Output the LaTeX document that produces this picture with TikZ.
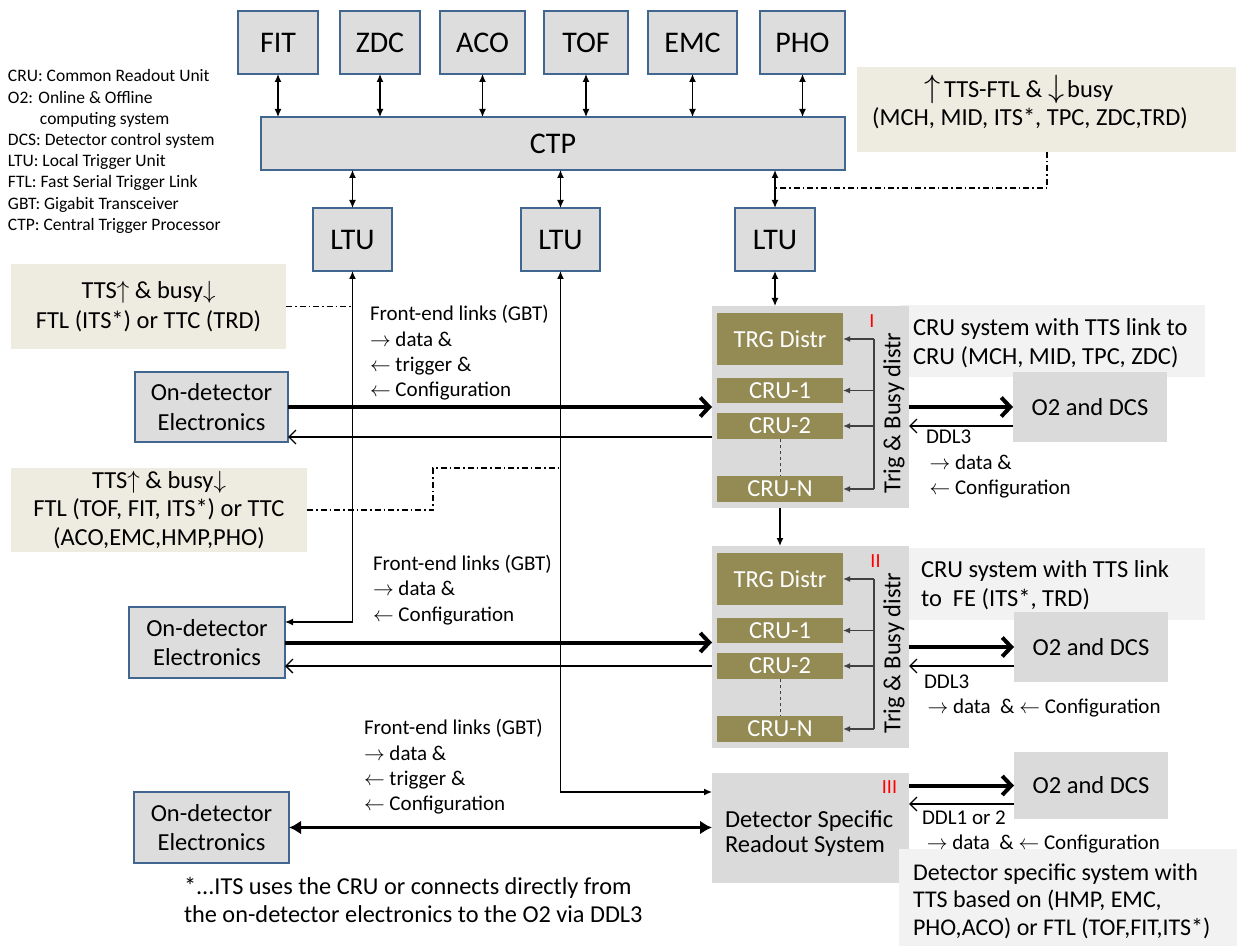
\documentclass[tikz,border=0pt]{standalone}
\usepackage{fontspec}
\setmainfont{Carlito}
\usetikzlibrary{arrows.meta}

\definecolor{boxgray}{HTML}{DDDDDD}
\definecolor{sysgray}{HTML}{DADADA}
\definecolor{boxblue}{HTML}{41668F}
\definecolor{tanbg}{HTML}{EEECE1}
\definecolor{notebg}{HTML}{F2F2F2}
\definecolor{olivebox}{HTML}{948A54}
\definecolor{busgray}{HTML}{404040}

\newcommand\fsz[2]{\fontsize{#1}{#2}\selectfont}
\newcommand\rarr{$\rightarrow$}
\newcommand\larr{$\leftarrow$}
\newcommand\uarr{$\uparrow$}
\newcommand\darr{$\downarrow$}

% one CRU system: #1 name suffix, #2 vertical offset, #3 red numeral, #4 numeral x
\newcommand\drawcrusys[4]{%
\begin{scope}[shift={(0,#2)}]
  \node[sys box, minimum width=197pt, minimum height=202pt] (sys#1) at (712,306) {};
  \node[olive box, minimum width=126pt, minimum height=52pt] (trg#1) at (717,313) {TRG Distr};
  \node[olive box, minimum width=126pt, minimum height=25pt] (cruA#1) at (717,378) {CRU-1};
  \node[olive box, minimum width=126pt, minimum height=26pt] (cruB#1) at (717,413) {CRU-2};
  \node[olive box, minimum width=126pt, minimum height=26pt] (cruN#1) at (717,476) {CRU-N};
  \draw[dashed, busgray, line width=0.8pt] (cruB#1.south) -- (cruN#1.north);
  \coordinate (bus#1) at (874,0);
  \draw[bus] (trg#1.east -| bus#1) -- (cruN#1.east -| bus#1);
  \draw[bus, bus tip] (trg#1.east -| bus#1) -- (trg#1.east);
  \draw[bus, bus tip] (cruA#1.east -| bus#1) -- (cruA#1.east);
  \draw[bus, bus tip] (cruB#1.east -| bus#1) -- (cruB#1.east);
  \draw[bus, bus tip] (cruN#1.east -| bus#1) -- (cruN#1.east);
  \node[rotate=90, mid font] (trig#1) at (894,413) {Trig \& Busy distr};
  \node[text=red, font=\fsz{20}{24}] (num#1) at (#4,321) {#3};
\end{scope}}

\begin{document}
\begin{tikzpicture}[x=1pt, y=-1pt,
  every node/.style={inner sep=0pt, outer sep=0pt},
  big font/.style={font=\fsz{30}{36}},
  mid font/.style={font=\fsz{24.5}{29.5}},
  small font/.style={font=\fsz{21}{25.3}},
  blue box/.style={draw=boxblue, line width=1.3pt, fill=boxgray, anchor=north west, align=center},
  sys box/.style={fill=sysgray, anchor=north west, align=center},
  tan box/.style={fill=tanbg, anchor=north west},
  note box/.style={fill=notebg, anchor=north west},
  note text/.style={anchor=west, align=left, mid font},
  olive box/.style={fill=olivebox, anchor=north west, text=white, font=\fsz{24.5}{29}},
  link/.style={line width=1.3pt},
  tri/.tip={Latex[length=8pt,width=7pt]},
  both tips/.style={tri-tri},
  one tip/.style={-tri},
  back link/.style={line width=1.3pt, -{Straight Barb[length=7pt,width=14pt]}},
  data link/.style={line width=4pt, -{Straight Barb[length=9pt,width=19pt]}},
  fat both/.style={line width=3.5pt, {Latex[length=12pt,width=14pt]}-{Latex[length=12pt,width=14pt]}},
  bus/.style={busgray, line width=1.3pt},
  bus tip/.style={-{Latex[length=7pt,width=6pt]}},
  dashdot/.style={line width=1.2pt, dash pattern=on 6pt off 3pt on 1.5pt off 3pt},
]
\useasboundingbox (0,0) rectangle (1238,949);

% ---- legend
\node[anchor=west, align=left, font=\fsz{17.5}{21.2}] (legend) at (8,151.5)
  {CRU: Common Readout Unit\\O2: Online \& Offline\\\hspace*{32pt}computing system\\
   DCS: Detector control system\\LTU: Local Trigger Unit\\FTL: Fast Serial Trigger Link\\
   GBT: Gigabit Transceiver\\CTP: Central Trigger Processor};

% ---- detectors and central trigger processor
\node[blue box, big font, minimum width=80pt, minimum height=63pt] (fit) at (238,11) {FIT};
\node[blue box, big font, minimum width=80pt, minimum height=63pt] (zdc) at (340,11) {ZDC};
\node[blue box, big font, minimum width=85pt, minimum height=63pt] (aco) at (440,11) {ACO};
\node[blue box, big font, minimum width=84pt, minimum height=63pt] (tof) at (544,11) {TOF};
\node[blue box, big font, minimum width=89pt, minimum height=63pt] (emc) at (648,11) {EMC};
\node[blue box, big font, minimum width=85pt, minimum height=63pt] (pho) at (760,11) {PHO};
\node[blue box, big font, minimum width=584pt, minimum height=53pt] (ctp) at (261,117) {CTP};
\foreach \d in {fit,zdc,aco,tof,emc,pho}
  \draw[link, both tips] (\d.south) -- (\d.south |- ctp.north);

% ---- local trigger units
\node[blue box, big font, minimum width=79pt, minimum height=63pt] (ltu1) at (313,208) {LTU};
\node[blue box, big font, minimum width=79pt, minimum height=63pt] (ltu2) at (521,208) {LTU};
\node[blue box, big font, minimum width=80pt, minimum height=63pt] (ltu3) at (735,208) {LTU};
\foreach \l in {ltu1,ltu2,ltu3}
  \draw[link, both tips] (\l.north |- ctp.south) -- (\l.north);

% ---- TTS notes
\node[tan box, minimum width=379pt, minimum height=85pt] (ann1) at (857,67) {};
\node[mid font, align=center, font=\fsz{24.5}{27.5}] (ann1txt) at (1030,102)
  {\scalebox{1.3}{\uarr}\kern3pt TTS-FTL \& \scalebox{1.3}{\darr}\kern3pt busy\hspace*{22pt}\\(MCH, MID, ITS*, TPC, ZDC,TRD)};
\node[tan box, mid font, align=center, minimum width=275pt, minimum height=85pt] (ann2) at (11,264)
  {TTS\uarr{} \& busy\darr\\FTL (ITS*) or TTC (TRD)};
\node[tan box, align=center, font=\fsz{24.5}{28.5}, minimum width=296pt, minimum height=84pt] (ann3) at (11,468)
  {TTS\uarr{} \& busy\darr\\FTL (TOF, FIT, ITS*) or TTC\\(ACO,EMC,HMP,PHO)};

\coordinate (dd1) at (1047,188);
\draw[dashdot] (ann1.south -| dd1) -- (dd1) -- (dd1 -| ltu3.south);
\draw[dashdot] (ann2.east) -- (ann2.east -| ltu1.south);
\coordinate (dd3) at (433,468);
\draw[dashdot] (ann3.east) -- (ann3.east -| dd3) -- (dd3) -- (dd3 -| ltu2.south);

% ---- system descriptions
\node[note box, minimum width=305pt, minimum height=72pt] (noteI) at (900,305) {};
\node[note text] (noteItxt) at (913,343) {CRU system with TTS link to\\CRU (MCH, MID, TPC, ZDC)};
\node[note box, minimum width=296pt, minimum height=72pt] (noteII) at (909,548) {};
\node[note text] (noteIItxt) at (921,585) {CRU system with TTS link\\to\ \ FE (ITS*, TRD)};

% ---- CRU systems
\drawcrusys{I}{0}{I}{872}
\drawcrusys{II}{240}{II}{875.5}

% ---- detector specific readout
\node[sys box, minimum width=197pt, minimum height=110pt] (detspec) at (712,773) {};
\node[note text, font=\fsz{24.5}{25}] (dstxt) at (725,833) {Detector Specific\\Readout System};
\node[text=red, font=\fsz{20}{24}] (numIII) at (889.5,787) {III};
\node[note box, minimum width=338pt, minimum height=97pt] (noteIII) at (899,849) {};
\node[note text, font=\fsz{24}{27.5}] (noteIIItxt) at (913,901)
  {Detector specific system with\\TTS based on (HMP, EMC,\\PHO,ACO) or FTL (TOF,FIT,ITS*)};

% ---- O2 and DCS
\node[sys box, mid font, minimum width=154pt, minimum height=70pt] (o2I) at (1013,372) {O2 and DCS};
\node[sys box, mid font, minimum width=154pt, minimum height=70pt] (o2II) at (1014,612) {O2 and DCS};
\node[sys box, mid font, minimum width=154pt, minimum height=67pt] (o2III) at (1014,752) {O2 and DCS};

% ---- on-detector electronics
\node[blue box, mid font, minimum width=153pt, minimum height=70pt] (ondet1) at (135,372) {On-detector\\Electronics};
\node[blue box, mid font, minimum width=156pt, minimum height=71pt] (ondet2) at (129,607) {On-detector\\Electronics};
\node[blue box, mid font, minimum width=155pt, minimum height=71pt] (ondet3) at (134,792) {On-detector\\Electronics};

% ---- link labels
\node[small font, align=left, anchor=west] (fe1) at (370,353)
  {Front-end links (GBT)\\\rarr{} data \&\\\larr{} trigger \&\\\larr{} Configuration};
\node[small font, align=left, anchor=west] (fe2) at (373,590)
  {Front-end links (GBT)\\\rarr{} data \&\\\larr{} Configuration};
\node[small font, align=left, anchor=west] (fe3) at (364,767)
  {Front-end links (GBT)\\\rarr{} data \&\\\larr{} trigger \&\\\larr{} Configuration};
\node[small font, align=left, anchor=west] (ddlI) at (926,464)
  {DDL3\\\,\rarr{} data \&\\\,\larr{} Configuration};
\node[small font, align=left, anchor=west] (ddlII) at (924,696)
  {DDL3\\\,\rarr{} data\ \ \& \larr{} Configuration};
\node[small font, align=left, anchor=west] (ddlIII) at (922,832)
  {DDL1 or 2\\\ \rarr{} data\ \ \& \larr{} Configuration};
\node[align=left, anchor=west, font=\fsz{24.3}{28}] (foot) at (184,900)
  {*...ITS uses the CRU or connects directly from\\the on-detector electronics to the O2 via DDL3};

% ---- connections
\coordinate (yA) at (0,437);
\coordinate (yB) at (0,622);
\coordinate (yC) at (0,792);
\coordinate (yD) at (0,804);

\draw[data link] (ondet1.east) -- (ondet1.east -| sysI.west);
\draw[back link] (sysI.west |- yA) -- (ondet1.east |- yA);
\draw[data link] (sysI.east) -- (sysI.east -| o2I.west);
\draw[back link] (o2I.west |- cruBI.east) -- (sysI.east |- cruBI.east);

\draw[data link] (ondet2.east) -- (ondet2.east -| sysII.west);
\draw[back link] (sysII.west |- cruBII.east) -- (ondet2.east |- cruBII.east);
\draw[data link] (sysII.east) -- (sysII.east -| o2II.west);
\draw[back link] (o2II.west |- cruBII.east) -- (sysII.east |- cruBII.east);

\draw[link, both tips] (ltu3.south) -- (ltu3.south |- sysI.north);
\draw[link, one tip] (sysI.south -| cruNI.south) -- (sysII.north -| cruNI.south);

\draw[link, both tips] (ltu1.south) -- (ltu1.south |- yB) -- (ondet2.east |- yB);
\draw[link, both tips] (ltu2.south) -- (ltu2.south |- yC) -- (detspec.west |- yC);

\draw[fat both] (ondet3.east) -- (ondet3.east -| detspec.west);
\draw[data link] (detspec.east |- o2III.west) -- (o2III.west);
\draw[back link] (o2III.west |- yD) -- (detspec.east |- yD);
\end{tikzpicture}
\end{document}
